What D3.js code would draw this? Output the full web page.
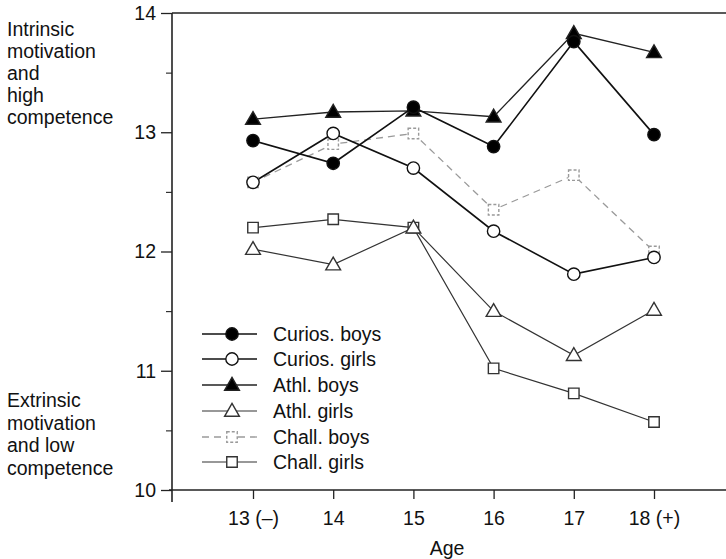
<!DOCTYPE html>
<html>
<head>
<meta charset="utf-8">
<script src="https://cdn.jsdelivr.net/npm/d3@7"></script>
<style>
  html, body { margin: 0; padding: 0; background: #fff; }
  svg { display: block; font-family: "Liberation Sans", Arial, Helvetica, sans-serif; }
</style>
</head>
<body>
<svg id="chart" width="726" height="559"></svg>
<script>
// Ages on the x axis and their printed labels
const ages = [13, 14, 15, 16, 17, 18];
const ageLabels = ["13 (\u2013)", "14", "15", "16", "17", "18 (+)"];
const yTicks = [10, 11, 12, 13, 14];

// Mean scores per age group
const curiosBoys  = [12.93, 12.74, 13.21, 12.88, 13.76, 12.98];
const curiosGirls = [12.58, 12.99, 12.70, 12.17, 11.81, 11.95];
const athlBoys    = [13.11, 13.17, 13.18, 13.13, 13.83, 13.67];
const athlGirls   = [12.02, 11.89, 12.20, 11.50, 11.13, 11.51];
const challBoys   = [12.58, 12.90, 12.99, 12.35, 12.64, 12.00];
const challGirls  = [12.20, 12.27, 12.20, 11.02, 10.81, 10.57];

const seriesNames = ["Curios. boys", "Curios. girls", "Athl. boys", "Athl. girls", "Chall. boys", "Chall. girls"];

const series = [
  { name: seriesNames[0], values: curiosBoys,  marker: "circle",   fill: "#000", stroke: "#111", width: 1.6, dash: null },
  { name: seriesNames[1], values: curiosGirls, marker: "circle",   fill: "#fff", stroke: "#111", width: 1.6, dash: null },
  { name: seriesNames[2], values: athlBoys,    marker: "triangle", fill: "#000", stroke: "#222", width: 1.3, dash: null },
  { name: seriesNames[3], values: athlGirls,   marker: "triangle", fill: "#fff", stroke: "#333", width: 1.2, dash: null },
  { name: seriesNames[4], values: challBoys,   marker: "square",   fill: "#fff", stroke: "#9a9a9a", width: 1.3, dash: "7,5" },
  { name: seriesNames[5], values: challGirls,  marker: "square",   fill: "#fff", stroke: "#333", width: 1.2, dash: null }
];

const svg = d3.select("#chart");
const plotLeft = 172, plotRight = 726, plotTop = 13, plotBottom = 490;

const x = d3.scaleLinear().domain([13, 18]).range([253, 654]);
const y = d3.scaleLinear().domain([10, 14]).range([plotBottom, plotTop]);

const fontSize = 19.5;

// Frame: top rule, left axis and baseline
svg.append("line").attr("x1", plotLeft).attr("x2", plotRight).attr("y1", plotTop).attr("y2", plotTop)
  .attr("stroke", "#222").attr("stroke-width", 1.6);
svg.append("line").attr("x1", plotLeft).attr("x2", plotLeft).attr("y1", plotTop).attr("y2", plotBottom + 12)
  .attr("stroke", "#222").attr("stroke-width", 1.6);
svg.append("line").attr("x1", plotLeft - 3).attr("x2", plotRight).attr("y1", plotBottom).attr("y2", plotBottom)
  .attr("stroke", "#222").attr("stroke-width", 1.6);

// Y axis: major ticks with labels, minor ticks at half units
const yMajor = d3.axisLeft(y).tickValues(yTicks).tickSize(11).tickPadding(5).tickFormat(d3.format("d"));
const gy = svg.append("g").attr("transform", `translate(${plotLeft},0)`).call(yMajor);
gy.select(".domain").remove();
gy.selectAll(".tick line").attr("stroke", "#222").attr("stroke-width", 1.3);
gy.selectAll(".tick text").attr("font-size", fontSize).attr("fill", "#111")
  .attr("font-family", "Liberation Sans, Arial, sans-serif");

const yMinor = d3.axisLeft(y).tickValues([10.5, 11.5, 12.5, 13.5]).tickSize(6).tickFormat("");
const gym = svg.append("g").attr("transform", `translate(${plotLeft},0)`).call(yMinor);
gym.select(".domain").remove();
gym.selectAll(".tick line").attr("stroke", "#222").attr("stroke-width", 1.1);

// X axis
const xAxis = d3.axisBottom(x).tickValues(ages).tickSize(9).tickPadding(12)
  .tickFormat((d, i) => ageLabels[i]);
const gx = svg.append("g").attr("transform", `translate(0,${plotBottom})`).call(xAxis);
gx.select(".domain").remove();
gx.selectAll(".tick line").attr("stroke", "#222").attr("stroke-width", 1.3);
gx.selectAll(".tick text").attr("font-size", fontSize).attr("fill", "#111")
  .attr("font-family", "Liberation Sans, Arial, sans-serif");

svg.append("text").attr("x", 447).attr("y", 555).attr("text-anchor", "middle")
  .attr("font-size", fontSize).attr("fill", "#111").text("Age");

// Side annotations
const topNote = ["Intrinsic", "motivation", "and", "high", "competence"];
const bottomNote = ["Extrinsic", "motivation", "and low", "competence"];
svg.append("g").selectAll("text").data(topNote).join("text")
  .attr("x", 7).attr("y", (d, i) => 36 + i * 22)
  .attr("font-size", fontSize).attr("fill", "#111").text(d => d);
svg.append("g").selectAll("text").data(bottomNote).join("text")
  .attr("x", 7).attr("y", (d, i) => 407 + i * 22.5)
  .attr("font-size", fontSize).attr("fill", "#111").text(d => d);

// Marker drawing
const symbolFor = {
  circle: d3.symbol().type(d3.symbolCircle).size(120),
  triangle: d3.symbol().type(d3.symbolTriangle).size(95),
  square: d3.symbol().type(d3.symbolSquare).size(110)
};
function drawMarker(g, s, cx, cy) {
  const off = s.marker === "triangle" ? 1 : 0;
  g.append("path")
    .attr("d", symbolFor[s.marker]())
    .attr("transform", `translate(${cx},${cy + off})`)
    .attr("fill", s.fill)
    .attr("stroke", s.stroke)
    .attr("stroke-width", 1.4)
    .attr("stroke-dasharray", s.dash ? "3,2" : null);
}

const line = d3.line().x((d, i) => x(ages[i])).y(d => y(d));

// Lines first (drawn back to front), then markers on top
const drawOrder = [4, 5, 3, 1, 2, 0];
drawOrder.forEach(k => {
  const s = series[k];
  svg.append("path").datum(s.values).attr("d", line)
    .attr("fill", "none").attr("stroke", s.stroke).attr("stroke-width", s.width)
    .attr("stroke-dasharray", s.dash);
});
drawOrder.forEach(k => {
  const s = series[k];
  const g = svg.append("g");
  s.values.forEach((v, i) => drawMarker(g, s, x(ages[i]), y(v)));
});

// Legend
const legendRows = [334, 359, 385, 411, 437, 462];
const lg = svg.append("g");
series.forEach((s, i) => {
  const ly = legendRows[i];
  lg.append("line").attr("x1", 202).attr("x2", 257).attr("y1", ly).attr("y2", ly)
    .attr("stroke", s.stroke).attr("stroke-width", s.width).attr("stroke-dasharray", s.dash);
  drawMarker(lg, s, 232, ly);
  lg.append("text").attr("x", 273).attr("y", ly).attr("dy", "0.35em")
    .attr("font-size", fontSize).attr("fill", "#111").text(s.name);
});
</script>
</body>
</html>
